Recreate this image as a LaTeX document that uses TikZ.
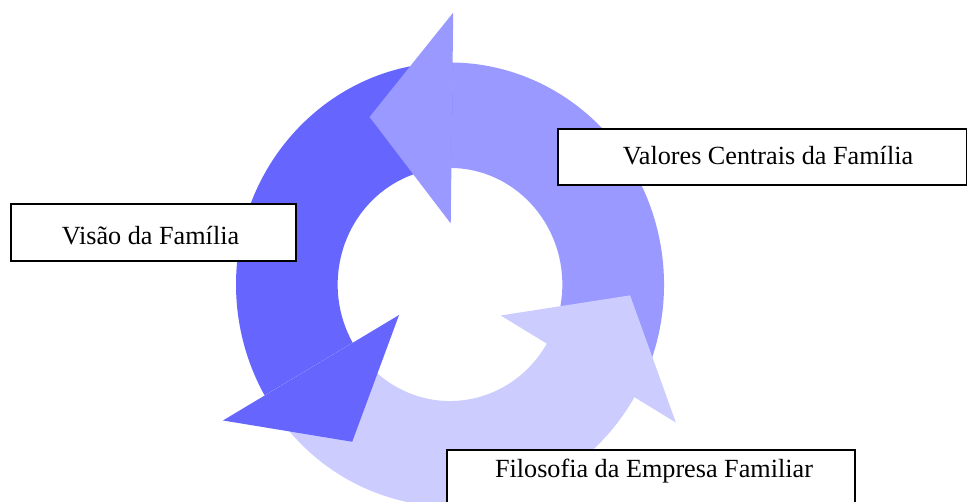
\documentclass[tikz,border=0pt]{standalone}
\usepackage{fontspec}
\setmainfont{Liberation Serif}
\usetikzlibrary{calc}
\definecolor{cycdark}{HTML}{6666FF}
\definecolor{cycmid}{HTML}{9999FF}
\definecolor{cyclight}{HTML}{CCCCFF}
\tikzset{
  labelbox/.style={draw=black, line width=1.5pt, fill=white, inner sep=0pt},
  labeltext/.style={font=\fontsize{26.2}{30}\selectfont, inner sep=0pt, anchor=base},
}
% one band of the ring: colour, start angle, end angle
\newcommand\ringpart[3]{%
  \fill[#1] (#2:1) arc[start angle=#2, end angle=#3, radius=1]
    -- (#3:0.525) arc[start angle=#3, end angle=#2, radius=0.525] -- cycle;}
% arrow head whose back edge lies on the given angle, pointing counter-clockwise
\newcommand\ringhead[2]{%
  \fill[#1] (#2:0.275) -- ($(#2:0.75)+(#2+90:0.385)$) -- (#2:1.225) -- cycle;}
\begin{document}
\begin{tikzpicture}[x=1pt, y=-1pt]
  \useasboundingbox (0,0) rectangle (968,502);
  \fill[white] (0,0) rectangle (968,502);

  % the cycle of three arrows
  \begin{scope}[shift={(450,284.5)}, x=214pt, y=222pt]
    \ringpart{cycmid}{-30.5}{89.3}
    \ringpart{cycdark}{89.3}{210}
    \ringpart{cyclight}{210}{329.5}
    \ringhead{cycmid}{89.3}
    \ringhead{cycdark}{210}
    \ringhead{cyclight}{329.5}
  \end{scope}

  % labels
  \node[labelbox, minimum width=285, minimum height=57] (visaobox) at (153.5,232.5) {};
  \node[labeltext] (visao) at (150.5,245) {Visão da Família};

  \node[labelbox, minimum width=408.5, minimum height=56] (valoresbox) at (762.25,157) {};
  \node[labeltext] (valores) at (768,165) {Valores Centrais da Família};

  \node[labelbox, minimum width=408, minimum height=60] (filosofiabox) at (651,480) {};
  \node[labeltext] (filosofia) at (654,477) {Filosofia da Empresa Familiar};
\end{tikzpicture}
\end{document}
